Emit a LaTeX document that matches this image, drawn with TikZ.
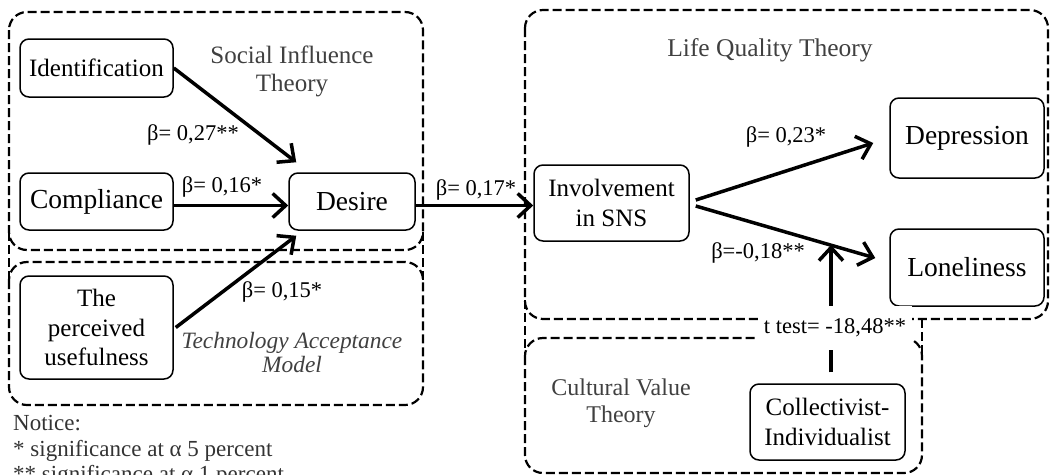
\documentclass[tikz,border=0pt]{standalone}
\usepackage{fontspec}
\setmainfont{Liberation Serif}
\usetikzlibrary{arrows.meta,calc}

\newcommand\fsBig{\fontsize{27.5}{30}\selectfont}
\newcommand\fsMid{\fontsize{25}{29.5}\selectfont}
\newcommand\fsCoef{\fontsize{22.5}{26}\selectfont}

\tikzset{
  concept/.style={draw, line width=1.5pt, rounded corners=9pt, align=center, inner sep=0pt},
  theorybox/.style={draw, line width=2.2pt, dash pattern=on 9pt off 4pt, rounded corners=18pt},
  theoryedge/.style={draw, line width=2.2pt, dash pattern=on 9pt off 4pt},
  effect/.style={line width=3.5pt, -{Straight Barb[length=13pt,width=24pt]}},
  coef/.style={font=\fsCoef, inner sep=0pt},
  tlabel/.style={text=black!75, align=center, inner sep=0pt},
  note/.style={font=\fontsize{23}{25}\selectfont, text=black!80, inner sep=0pt, anchor=base west},
}

\begin{document}
\begin{tikzpicture}[x=1pt,y=-1pt]
\useasboundingbox (0,0) rectangle (1054,474);

% theory frames
\draw[theorybox] (9,12) rectangle (423,250);
\draw[theorybox] (9,262) rectangle (423,405);
\draw[theorybox] (525,10) rectangle (1048,319);
\draw[theorybox] (525,338) rectangle (922,473);
\draw[theoryedge] (9,232) -- (9,280);
\draw[theoryedge] (423,232) -- (423,280);
\draw[theoryedge] (525,300) -- (525,356);
\draw[theoryedge] (922,319) -- (922,356);

% theory titles
\node[tlabel, font=\fontsize{25}{28}\selectfont] (sit) at (292,71) {Social Influence\\Theory};
\node[tlabel, font=\fontsize{25.5}{28}\selectfont] (lqt) at (770,50) {Life Quality Theory};
\node[tlabel, font=\fontsize{23.4}{24}\selectfont\itshape] (tam) at (292,352) {Technology Acceptance\\Model};
\node[tlabel, font=\fontsize{24}{27}\selectfont] (cvt) at (621,403) {Cultural Value\\Theory};

% constructs
\node[concept, minimum width=153pt, minimum height=58pt, font=\fsMid] (ident) at (96.5,68) {Identification};
\node[concept, minimum width=153pt, minimum height=57pt, font=\fsBig] (compl) at (96.5,201.5) {Compliance};
\node[concept, minimum width=126pt, minimum height=57pt, font=\fsBig] (desire) at (352,201.5) {Desire};
\node[concept, minimum width=153pt, minimum height=103pt, font=\fsMid] (useful) at (96.5,327.5) {The\\perceived\\usefulness};
\node[concept, minimum width=155pt, minimum height=76pt, font=\fsMid] (invol) at (611.5,203) {Involvement\\in SNS};
\node[concept, minimum width=154pt, minimum height=80pt, font=\fsBig] (depr) at (967,138) {Depression};
\node[concept, minimum width=154pt, minimum height=77pt, font=\fsBig] (lonely) at (967,267.5) {Loneliness};
\node[concept, minimum width=155pt, minimum height=76pt, font=\fsMid] (coll) at (827.5,422) {Collectivist-\\Individualist};

% paths
\draw[effect] (ident.east) -- ($(desire.north west)+(8,-10)$);
\draw[effect] ([yshift=-4pt]compl.east) -- ([yshift=-4pt]compl.east -| desire.west);
\draw[effect] ([xshift=2pt]useful.east) -- ($(desire.south west)+(8,5)$);
\draw[effect] ([yshift=-4pt]desire.east) -- ([yshift=-4pt]desire.east -| invol.west);
\draw[effect] ($(invol.east)+(6,-3)$) -- ($(depr.west)+(-16,5)$);
\draw[effect] ($(invol.east)+(6,3)$) -- ($(lonely.west)+(-14,-9.5)$);

% moderation
\coordinate (mod) at (831,245);
\draw[effect, shorten <=11pt] (coll.north -| mod) -- (mod);
\node[fill=white, font=\fsCoef, inner xsep=6pt, inner ysep=13pt] (ttest) at (835,328) {t test= -18,48**};

% coefficients
\node[coef] (c1) at (193,135) {β= 0,27**};
\node[coef] (c2) at (222,187) {β= 0,16*};
\node[coef] (c3) at (282,292) {β= 0,15*};
\node[coef] (c4) at (476,190) {β= 0,17*};
\node[coef] (c5) at (786,137) {β= 0,23*};
\node[coef] (c6) at (758,253) {β=-0,18**};

% footnote
\node[note] (n1) at (13,430) {Notice:};
\node[note] (n2) at (13,456) {* significance at α 5 percent};
\node[note] (n3) at (13,481) {** significance at α 1 percent};
\end{tikzpicture}
\end{document}
